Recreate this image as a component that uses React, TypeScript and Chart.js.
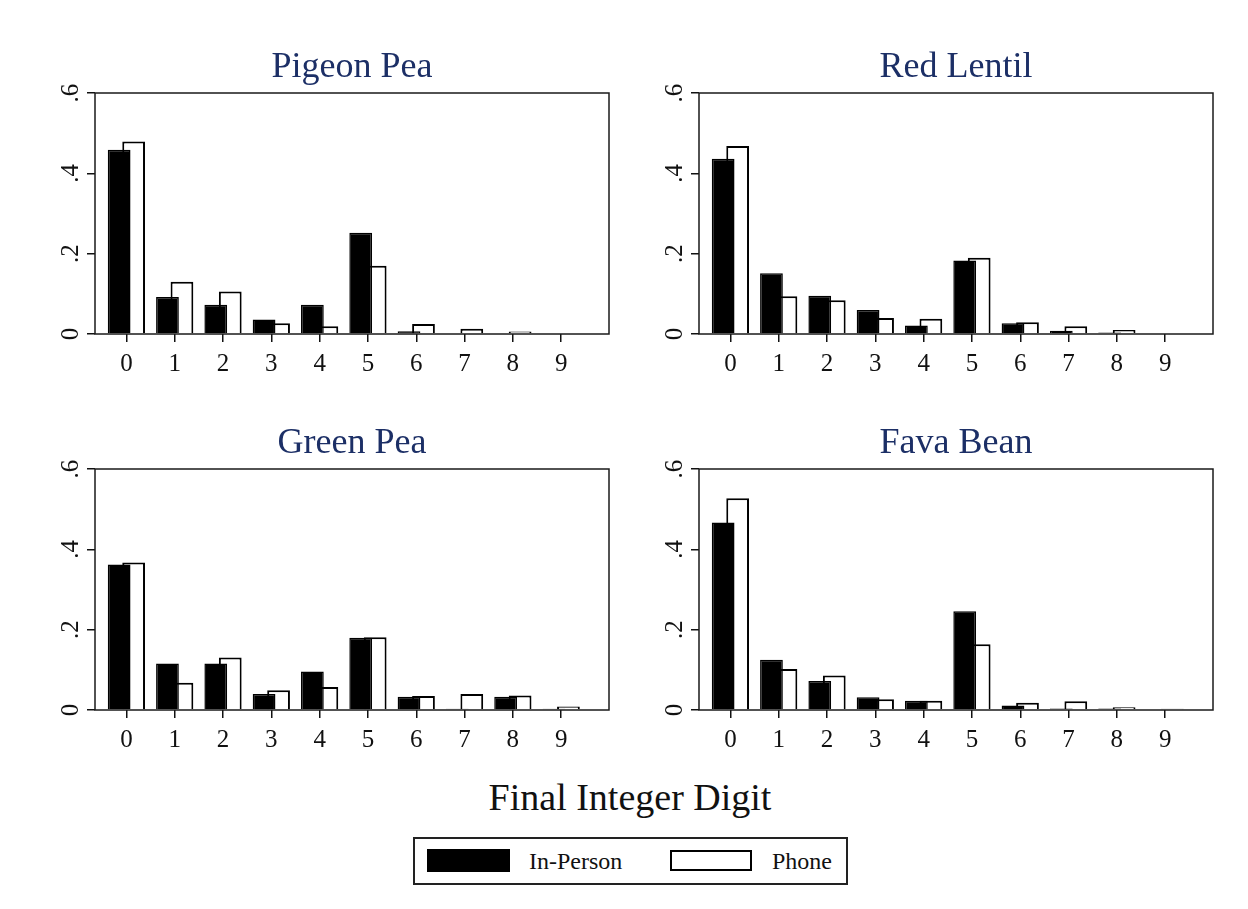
import React, { useEffect, useRef } from 'react';
import { Chart, registerables } from 'chart.js';

Chart.register(...registerables);

// ---------- data ----------
const digits = ['0', '1', '2', '3', '4', '5', '6', '7', '8', '9'];
const yTicks = [0, 0.2, 0.4, 0.6];
const yTickLabels = ['0', '.2', '.4', '.6'];
const seriesNames = ['In-Person', 'Phone'];
const panelTitles = ['Pigeon Pea', 'Red Lentil', 'Green Pea', 'Fava Bean'];
const xAxisTitle = 'Final Integer Digit';

const pigeonInPerson = [0.459, 0.092, 0.073, 0.036, 0.073, 0.252, 0.007, 0, 0, 0];
const pigeonPhone = [0.479, 0.130, 0.106, 0.027, 0.019, 0.170, 0.025, 0.013, 0.006, 0.002];
const lentilInPerson = [0.436, 0.151, 0.095, 0.060, 0.021, 0.183, 0.027, 0.008, 0.004, 0];
const lentilPhone = [0.468, 0.094, 0.084, 0.040, 0.038, 0.190, 0.029, 0.019, 0.010, 0.002];
const greenInPerson = [0.362, 0.116, 0.116, 0.040, 0.096, 0.180, 0.033, 0.003, 0.033, 0.003];
const greenPhone = [0.367, 0.068, 0.131, 0.049, 0.057, 0.181, 0.035, 0.040, 0.036, 0.009];
const favaInPerson = [0.467, 0.125, 0.072, 0.032, 0.023, 0.246, 0.011, 0.004, 0.004, 0];
const favaPhone = [0.527, 0.102, 0.086, 0.027, 0.023, 0.164, 0.018, 0.022, 0.007, 0.003];

// ---------- styling ----------
const SERIF = '"Liberation Serif", "Times New Roman", serif';
const TITLE_COLOR = '#1c2f66';
const INK = '#111111';
const CANVAS_W = 578;
const CANVAS_H = 351;

const framePlugin = {
  id: 'frame',
  afterDatasetsDraw(chart: any) {
    const { ctx, chartArea: a } = chart;
    ctx.save();
    ctx.strokeStyle = '#1a1a1a';
    ctx.lineWidth = 1.5;
    ctx.strokeRect(a.left, a.top, a.right - a.left, a.bottom - a.top);
    ctx.restore();
  },
};

type PanelProps = {
  title: string;
  inPerson: number[];
  phone: number[];
  left: number;
  top: number;
};

function Panel({ title, inPerson, phone, left, top }: PanelProps) {
  const ref = useRef<HTMLCanvasElement | null>(null);

  useEffect(() => {
    if (!ref.current) return;
    const tickGrid = {
      display: true,
      drawOnChartArea: false,
      drawTicks: true,
      tickLength: 8,
      color: '#111',
      lineWidth: 1.5,
      offset: false,
    };
    const chart = new Chart(ref.current, {
      type: 'bar',
      data: {
        datasets: [
          {
            label: seriesNames[0],
            data: digits.map((d, i) => ({ x: Number(d), y: inPerson[i] })),
            backgroundColor: '#000',
            borderColor: '#000',
            borderWidth: 1.5,
            categoryPercentage: 0.6,
            barPercentage: 1.57,
          },
          {
            label: seriesNames[1],
            data: digits.map((d, i) => ({ x: Number(d), y: phone[i] })),
            backgroundColor: '#fff',
            borderColor: '#000',
            borderWidth: 2,
            categoryPercentage: 0.6,
            barPercentage: 1.57,
          },
        ],
      },
      options: {
        animation: false,
        responsive: false,
        maintainAspectRatio: false,
        layout: { padding: { left: 0, right: 4, top: 0, bottom: 0 } },
        plugins: {
          legend: { display: false },
          tooltip: { enabled: false },
          title: {
            display: true,
            text: title,
            fullSize: false,
            color: TITLE_COLOR,
            font: { family: SERIF, size: 36, weight: 'normal', lineHeight: 1.2 },
            padding: { top: 3, bottom: 3.8 },
          },
        },
        scales: {
          x: {
            type: 'linear',
            min: -0.65,
            max: 9.99,
            offset: false,
            afterBuildTicks: (ax: any) => {
              ax.ticks = digits.map((d) => ({ value: Number(d) }));
            },
            afterFit: (ax: any) => {
              ax.height = 60;
            },
            grid: tickGrid,
            border: { display: false },
            ticks: {
              font: { family: SERIF, size: 25 },
              color: INK,
              padding: 7,
              maxRotation: 0,
              autoSkip: false,
              callback: (v: any) => String(v),
            },
          },
          y: {
            min: 0,
            max: 0.6,
            afterBuildTicks: (ax: any) => {
              ax.ticks = yTicks.map((v) => ({ value: v }));
            },
            afterFit: (ax: any) => {
              ax.width = 60;
            },
            grid: tickGrid,
            border: { display: false },
            ticks: {
              font: { family: SERIF, size: 25 },
              color: INK,
              minRotation: 90,
              maxRotation: 90,
              crossAlign: 'center',
              padding: 6,
              autoSkip: false,
              callback: (_v: any, i: number) => yTickLabels[i],
            },
          },
        },
      } as any,
      plugins: [framePlugin],
    });
    return () => chart.destroy();
  }, [title, inPerson, phone]);

  return (
    <canvas
      ref={ref}
      width={CANVAS_W}
      height={CANVAS_H}
      style={{ position: 'absolute', left, top, width: CANVAS_W, height: CANVAS_H }}
    />
  );
}

export default function App() {
  return (
    <div
      style={{
        position: 'fixed',
        left: 0,
        top: 0,
        width: 1248,
        height: 909,
        background: '#fff',
        fontFamily: SERIF,
        overflow: 'hidden',
      }}
    >
      <Panel title={panelTitles[0]} inPerson={pigeonInPerson} phone={pigeonPhone} left={35} top={43} />
      <Panel title={panelTitles[1]} inPerson={lentilInPerson} phone={lentilPhone} left={639} top={43} />
      <Panel title={panelTitles[2]} inPerson={greenInPerson} phone={greenPhone} left={35} top={419} />
      <Panel title={panelTitles[3]} inPerson={favaInPerson} phone={favaPhone} left={639} top={419} />

      <div
        style={{
          position: 'absolute',
          left: 380,
          top: 777,
          width: 500,
          textAlign: 'center',
          fontSize: 38,
          lineHeight: '40px',
          color: INK,
        }}
      >
        {xAxisTitle}
      </div>

      <div
        style={{
          position: 'absolute',
          left: 413,
          top: 837,
          width: 435,
          height: 48,
          border: '2px solid #222',
          boxSizing: 'border-box',
        }}
      />
      <div style={{ position: 'absolute', left: 427, top: 849, width: 83, height: 23, background: '#000' }} />
      <div
        style={{
          position: 'absolute',
          left: 529,
          top: 847,
          fontSize: 24,
          lineHeight: '28px',
          color: INK,
          whiteSpace: 'nowrap',
        }}
      >
        {seriesNames[0]}
      </div>
      <div
        style={{
          position: 'absolute',
          left: 670,
          top: 850,
          width: 82,
          height: 21,
          background: '#fff',
          border: '2px solid #000',
          boxSizing: 'border-box',
        }}
      />
      <div
        style={{
          position: 'absolute',
          left: 772,
          top: 847,
          fontSize: 24,
          lineHeight: '28px',
          color: INK,
          whiteSpace: 'nowrap',
        }}
      >
        {seriesNames[1]}
      </div>
    </div>
  );
}
